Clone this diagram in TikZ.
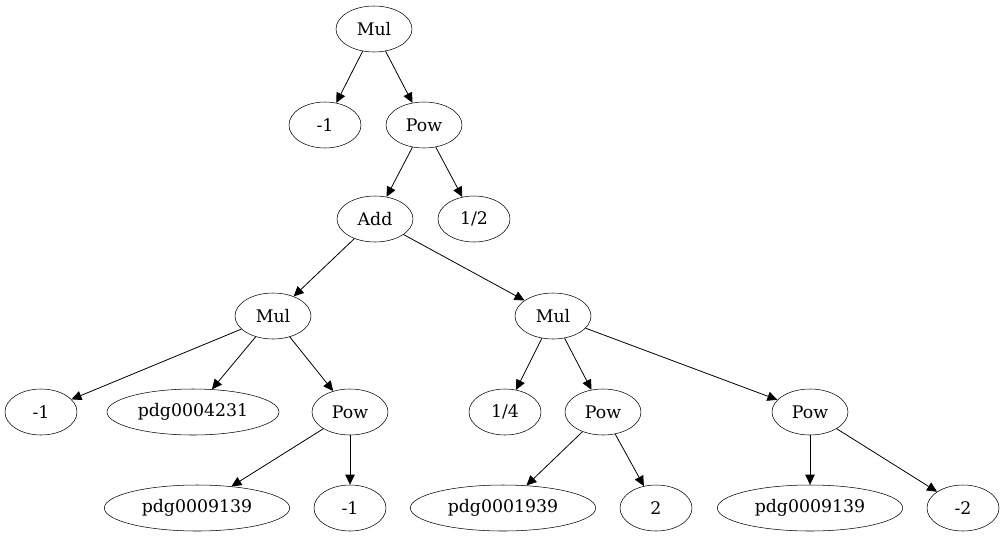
\documentclass[tikz,border=0pt]{standalone}
\usepackage{fontspec}
\setmainfont{DejaVu Serif}
\usetikzlibrary{shapes.geometric,arrows.meta}
\begin{document}
\begin{tikzpicture}[x=0.75pt,y=-0.75pt,
  nd/.style={draw,ellipse,minimum height=34.5pt,minimum width=54pt,inner sep=0pt,font=\fontsize{13}{15}\selectfont},
  wide/.style={nd,minimum width=57pt},
  pdg/.style={nd,minimum width=139pt},
  pdgs/.style={nd,minimum width=129pt},
  edge/.style={-{Triangle[length=7.5pt,width=7pt]},line width=0.6pt}]
\useasboundingbox (0,0) rectangle (1005,539);
\node[wide] (m0) at (374,29) {Mul};
\node[nd] (n1) at (325,125) {-1};
\node[wide] (p1) at (424,125) {Pow};
\node[wide] (a1) at (375,219) {Add};
\node[nd] (h) at (474,219) {1/2};
\node[wide] (ml) at (273,316) {Mul};
\node[wide] (mr) at (553,316) {Mul};
\node[nd] (n2) at (41,412) {-1};
\node[pdgs] (d1) at (193,412) {pdg0004231};
\node[wide] (p2) at (350,412) {Pow};
\node[nd] (q) at (505,412) {1/4};
\node[wide] (p3) at (603,412) {Pow};
\node[wide] (p4) at (810,412) {Pow};
\node[pdg] (d2) at (197,508) {pdg0009139};
\node[nd] (n3) at (350,508) {-1};
\node[pdg] (d3) at (503,508) {pdg0001939};
\node[nd] (t) at (656,508) {2};
\node[pdg] (d4) at (810,508) {pdg0009139};
\node[nd] (n4) at (963,508) {-2};
\foreach \a/\b in {m0/n1,m0/p1,p1/a1,p1/h,a1/ml,a1/mr,ml/n2,ml/d1,ml/p2,mr/q,mr/p3,mr/p4,p2/d2,p2/n3,p3/d3,p3/t,p4/d4,p4/n4}
  \draw[edge] (\a) -- (\b);
\end{tikzpicture}
\end{document}
